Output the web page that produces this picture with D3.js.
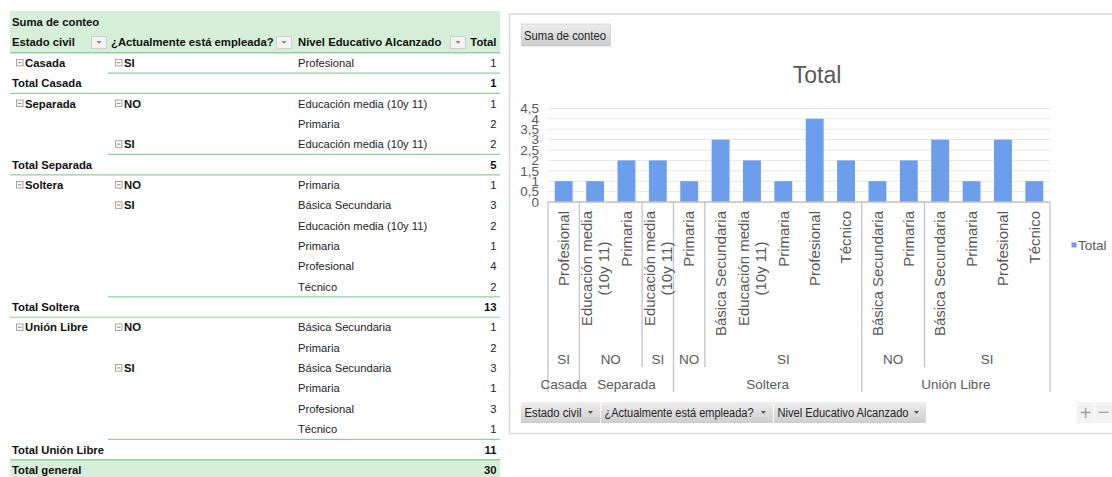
<!DOCTYPE html>
<html><head><meta charset="utf-8">
<script src="https://cdn.jsdelivr.net/npm/d3@7"></script>
<style>
body{margin:0;background:#fff;}
svg{display:block;font-family:Arial,"Liberation Sans",sans-serif;}
</style>
</head><body>
<svg id="c" width="1112" height="477"></svg>
<script>
// ---------- DATA ----------
const estadoCivil = ["Casada","Separada","Separada","Separada","Soltera","Soltera","Soltera","Soltera","Soltera","Soltera","Unión Libre","Unión Libre","Unión Libre","Unión Libre","Unión Libre","Unión Libre"];
const empleada = ["SI","NO","NO","SI","NO","SI","SI","SI","SI","SI","NO","NO","SI","SI","SI","SI"];
const nivelEducativo = ["Profesional","Educación media (10y 11)","Primaria","Educación media (10y 11)","Primaria","Básica Secundaria","Educación media (10y 11)","Primaria","Profesional","Técnico","Básica Secundaria","Primaria","Básica Secundaria","Primaria","Profesional","Técnico"];
const conteo = [1,1,2,2,1,3,2,1,4,2,1,2,3,1,3,1];
const yTickValues = [0,0.5,1,1.5,2,2.5,3,3.5,4,4.5];
const tableHeaders = ["Estado civil","¿Actualmente está empleada?","Nivel Educativo Alcanzado","Total"];
const fieldButtons = ["Estado civil","¿Actualmente está empleada?","Nivel Educativo Alcanzado"];
const valueFieldName = "Suma de conteo";
const seriesName = "Total";
const chartTitle = "Total";
const totalPrefix = "Total ";
const grandTotalLabel = "Total general";

// ---------- SETUP ----------
const svg = d3.select("#c");
const fmt = d3.formatLocale({decimal:",",thousands:".",grouping:[3],currency:["","€"]}).format("~g");
const n = conteo.length;
const idx = d3.range(n);

// ================= PIVOT TABLE =================
const T = svg.append("g");
const headerGreen = "#d6efd9", lineGreen = "#95cda0";
const tblL = 10, tblR = 500, rowH = 20.35, row0 = 52.7;
const colX = [12, 111, 298], valX = 496.5;

const rows = [];
let prevE = null, prevEmp = null;
idx.forEach(i => {
  const newE = estadoCivil[i] !== prevE;
  const newEmp = newE || empleada[i] !== prevEmp;
  rows.push({type:"leaf", e: newE ? estadoCivil[i] : null, emp: newEmp ? empleada[i] : null, niv: nivelEducativo[i], v: conteo[i]});
  prevE = estadoCivil[i]; prevEmp = empleada[i];
  if (i === n-1 || estadoCivil[i+1] !== estadoCivil[i]) {
    const tot = d3.sum(idx.filter(j => estadoCivil[j] === estadoCivil[i]), j => conteo[j]);
    rows.push({type:"total", label: totalPrefix + estadoCivil[i], v: tot});
  }
});
rows.push({type:"grand", label: grandTotalLabel, v: d3.sum(conteo)});

T.append("rect").attr("x",tblL).attr("y",11).attr("width",tblR-tblL).attr("height",row0-11).attr("fill",headerGreen);
const grandIdx = rows.length-1;
T.append("rect").attr("x",tblL).attr("y",row0+grandIdx*rowH).attr("width",tblR-tblL).attr("height",rowH+5).attr("fill",headerGreen);

const bold = (sel)=>sel.attr("font-weight","bold").attr("fill","#111").attr("font-size","11.3px");
T.append("text").attr("x",12).attr("y",22).attr("dy","0.35em").text(valueFieldName).call(bold);
tableHeaders.slice(0,3).forEach((h,k)=>{
  T.append("text").attr("x",colX[k]).attr("y",42).attr("dy","0.35em").text(h).call(bold);
});
T.append("text").attr("x",valX).attr("y",42).attr("dy","0.35em").attr("text-anchor","end").text(tableHeaders[3]).call(bold);
[91,276,450].forEach(bx=>{
  T.append("rect").attr("x",bx+0.5).attr("y",36.5).attr("width",15).attr("height",12).attr("fill","#f3f3f3").attr("stroke","#cfcfcf");
  T.append("path").attr("d",`M${bx+5.5},41 l5,0 l-2.5,3 z`).attr("fill","#8a8a8a");
});
T.append("line").attr("x1",tblL).attr("x2",tblR).attr("y1",row0).attr("y2",row0).attr("stroke",lineGreen).attr("stroke-width",1.4);

function minusBox(g,x,cy){
  g.append("rect").attr("x",x+0.5).attr("y",cy-3.5).attr("width",6.5).attr("height",6.5).attr("fill","#fff").attr("stroke","#9a9a9a").attr("stroke-width",0.9);
  g.append("line").attr("x1",x+2).attr("x2",x+5.5).attr("y1",cy-0.2).attr("y2",cy-0.2).attr("stroke","#777").attr("stroke-width",0.9);
}

rows.forEach((r,i)=>{
  const top = row0 + i*rowH, cy = top + 10.2;
  if (r.type === "leaf") {
    if (r.e) { minusBox(T,16,cy); T.append("text").attr("x",25).attr("y",cy).attr("dy","0.35em").text(r.e).call(bold); }
    if (r.emp) { minusBox(T,115,cy); T.append("text").attr("x",124).attr("y",cy).attr("dy","0.35em").text(r.emp).call(bold); }
    T.append("text").attr("x",colX[2]).attr("y",cy).attr("dy","0.35em").attr("font-size","11.2px").attr("fill","#222").text(r.niv);
    T.append("text").attr("x",valX).attr("y",cy).attr("dy","0.35em").attr("text-anchor","end").attr("font-size","11.2px").attr("fill","#222").text(r.v);
  } else {
    T.append("text").attr("x",12).attr("y",cy).attr("dy","0.35em").text(r.label).call(bold);
    T.append("text").attr("x",valX).attr("y",cy).attr("dy","0.35em").attr("text-anchor","end").text(r.v).call(bold);
    T.append("line").attr("x1", r.type==="total"?108:tblL).attr("x2",tblR).attr("y1",top).attr("y2",top).attr("stroke",lineGreen).attr("stroke-width",1.2);
    if (r.type==="total") T.append("line").attr("x1",tblL).attr("x2",tblR).attr("y1",top+rowH).attr("y2",top+rowH).attr("stroke",lineGreen).attr("stroke-width",1.2);
  }
});

// ================= PIVOT CHART =================
const C = svg.append("g");
const frameL = 509.5, frameT = 14, frameB = 433.5;
C.append("path").attr("d",`M1112,${frameT} L${frameL},${frameT} L${frameL},${frameB} L1112,${frameB}`).attr("fill","none").attr("stroke","#dadada").attr("stroke-width",1.6);

const defs = svg.append("defs");
const grad = defs.append("linearGradient").attr("id","btn").attr("x1",0).attr("x2",0).attr("y1",0).attr("y2",1);
grad.append("stop").attr("offset","0%").attr("stop-color","#eeeeee");
grad.append("stop").attr("offset","100%").attr("stop-color","#cdcdcd");

C.append("rect").attr("x",521.5).attr("y",24).attr("width",89).attr("height",22).attr("fill","url(#btn)").attr("stroke","#c4c4c4").attr("stroke-width",0.6);
C.append("text").attr("x",524).attr("y",35.5).attr("dy","0.35em").attr("font-size","12.5px").attr("fill","#262626")
  .attr("textLength",82).attr("lengthAdjust","spacingAndGlyphs").text(valueFieldName);

C.append("text").attr("x",817).attr("y",83).attr("text-anchor","middle").attr("font-size","23px").attr("fill","#595959").text(chartTitle);

const plotL = 548, plotR = 1050, y0 = 202, yTop = 108.4;
const x = d3.scaleBand().domain(idx).range([plotL,plotR]).paddingInner(0.43).paddingOuter(0.215);
const y = d3.scaleLinear().domain([0,4.5]).range([y0,yTop]);

C.append("g").selectAll("line").data(yTickValues.filter(v=>v>0)).join("line")
  .attr("x1",plotL).attr("x2",plotR).attr("y1",d=>y(d)).attr("y2",d=>y(d))
  .attr("stroke","#e6e6e6").attr("stroke-width",1);

const yAxis = C.append("g").attr("transform",`translate(${plotL},0)`)
  .call(d3.axisLeft(y).tickValues(yTickValues).tickSize(0).tickPadding(9).tickFormat(fmt));
yAxis.select(".domain").remove();
yAxis.selectAll("text").attr("font-size","13.5px").attr("fill","#595959").attr("font-family","Arial, 'Liberation Sans', sans-serif");

C.append("g").selectAll("rect").data(idx).join("rect")
  .attr("x",i=>x(i)).attr("width",x.bandwidth())
  .attr("y",i=>y(conteo[i])).attr("height",i=>y(0)-y(conteo[i]))
  .attr("fill","#6d9eeb");

C.append("line").attr("x1",plotL).attr("x2",plotR).attr("y1",y0).attr("y2",y0).attr("stroke","#bfbfbf").attr("stroke-width",1.3);

const step = x.step();
const catLeft = i => plotL + i*step;
const catCenter = i => plotL + (i+0.5)*step;
const sepColor = "#c4c4c4";
for (let i=0;i<=n;i++){
  let bottom = null;
  if (i===0 || i===n || estadoCivil[i] !== estadoCivil[i-1]) bottom = 392;
  else if (empleada[i] !== empleada[i-1]) bottom = 367;
  if (bottom) C.append("line").attr("x1",catLeft(i)).attr("x2",catLeft(i)).attr("y1",y0).attr("y2",bottom).attr("stroke",sepColor).attr("stroke-width",1.3);
}

const labelTop = 211;
idx.forEach(i=>{
  const g = C.append("g").attr("transform",`translate(${catCenter(i)},${labelTop}) rotate(-90)`);
  const m = nivelEducativo[i].match(/^(.*?)\s+(\(.*\))$/);
  const lines = m ? [m[1], m[2]] : [nivelEducativo[i]];
  if (lines.length === 1) {
    g.append("text").attr("text-anchor","end").attr("dy","0.35em").attr("font-size","15px").attr("fill","#595959").text(lines[0]);
  } else {
    const t1 = g.append("text").attr("text-anchor","end").attr("y",-8.5).attr("dy","0.35em").attr("font-size","15px").attr("fill","#595959").text(lines[0]);
    const L = t1.node().getComputedTextLength();
    g.append("text").attr("text-anchor","middle").attr("x",-L/2).attr("y",8.5).attr("dy","0.35em").attr("font-size","15px").attr("fill","#595959").text(lines[1]);
  }
});

function groups(keyFn){
  const out = [];
  idx.forEach(i=>{
    const k = keyFn(i);
    if (out.length && out[out.length-1].key === k) out[out.length-1].end = i;
    else out.push({key:k, start:i, end:i});
  });
  return out;
}
groups(i=>estadoCivil[i]+"|"+empleada[i]).forEach(gp=>{
  C.append("text").attr("x",(catLeft(gp.start)+catLeft(gp.end+1))/2).attr("y",359).attr("dy","0.35em")
    .attr("text-anchor","middle").attr("font-size","13.5px").attr("fill","#595959").text(empleada[gp.start]);
});
groups(i=>estadoCivil[i]).forEach(gp=>{
  C.append("text").attr("x",(catLeft(gp.start)+catLeft(gp.end+1))/2).attr("y",384).attr("dy","0.35em")
    .attr("text-anchor","middle").attr("font-size","13.5px").attr("fill","#595959").text(estadoCivil[gp.start]);
});

C.append("rect").attr("x",1071.5).attr("y",242.5).attr("width",5).attr("height",5).attr("fill","#6d9eeb");
C.append("text").attr("x",1078).attr("y",245.5).attr("dy","0.35em").attr("font-size","13.5px").attr("fill","#595959").text(seriesName);

const btnX = [521, 601, 774, 927];
const btnTextW = [57, 149, 131];
fieldButtons.forEach((f,k)=>{
  C.append("rect").attr("x",btnX[k]).attr("y",402).attr("width",btnX[k+1]-btnX[k]-1).attr("height",21).attr("fill","url(#btn)");
  C.append("text").attr("x",btnX[k]+3.5).attr("y",412.5).attr("dy","0.35em").attr("font-size","12.5px").attr("fill","#262626")
    .attr("textLength",btnTextW[k]).attr("lengthAdjust","spacingAndGlyphs").text(f);
  C.append("path").attr("d",`M${btnX[k+1]-13},411 l5,0 l-2.5,3 z`).attr("fill","#555");
});

C.append("rect").attr("x",1077).attr("y",402).attr("width",17).attr("height",21).attr("fill","#f2f2f2");
C.append("rect").attr("x",1095).attr("y",402).attr("width",17).attr("height",21).attr("fill","#f2f2f2");
C.append("text").attr("x",1085.5).attr("y",412.5).attr("dy","0.35em").attr("text-anchor","middle").attr("font-size","20px").attr("fill","#a3a3a3").text("+");
C.append("text").attr("x",1103.5).attr("y",412).attr("dy","0.35em").attr("text-anchor","middle").attr("font-size","20px").attr("fill","#a3a3a3").text("−");
</script>
</body></html>
